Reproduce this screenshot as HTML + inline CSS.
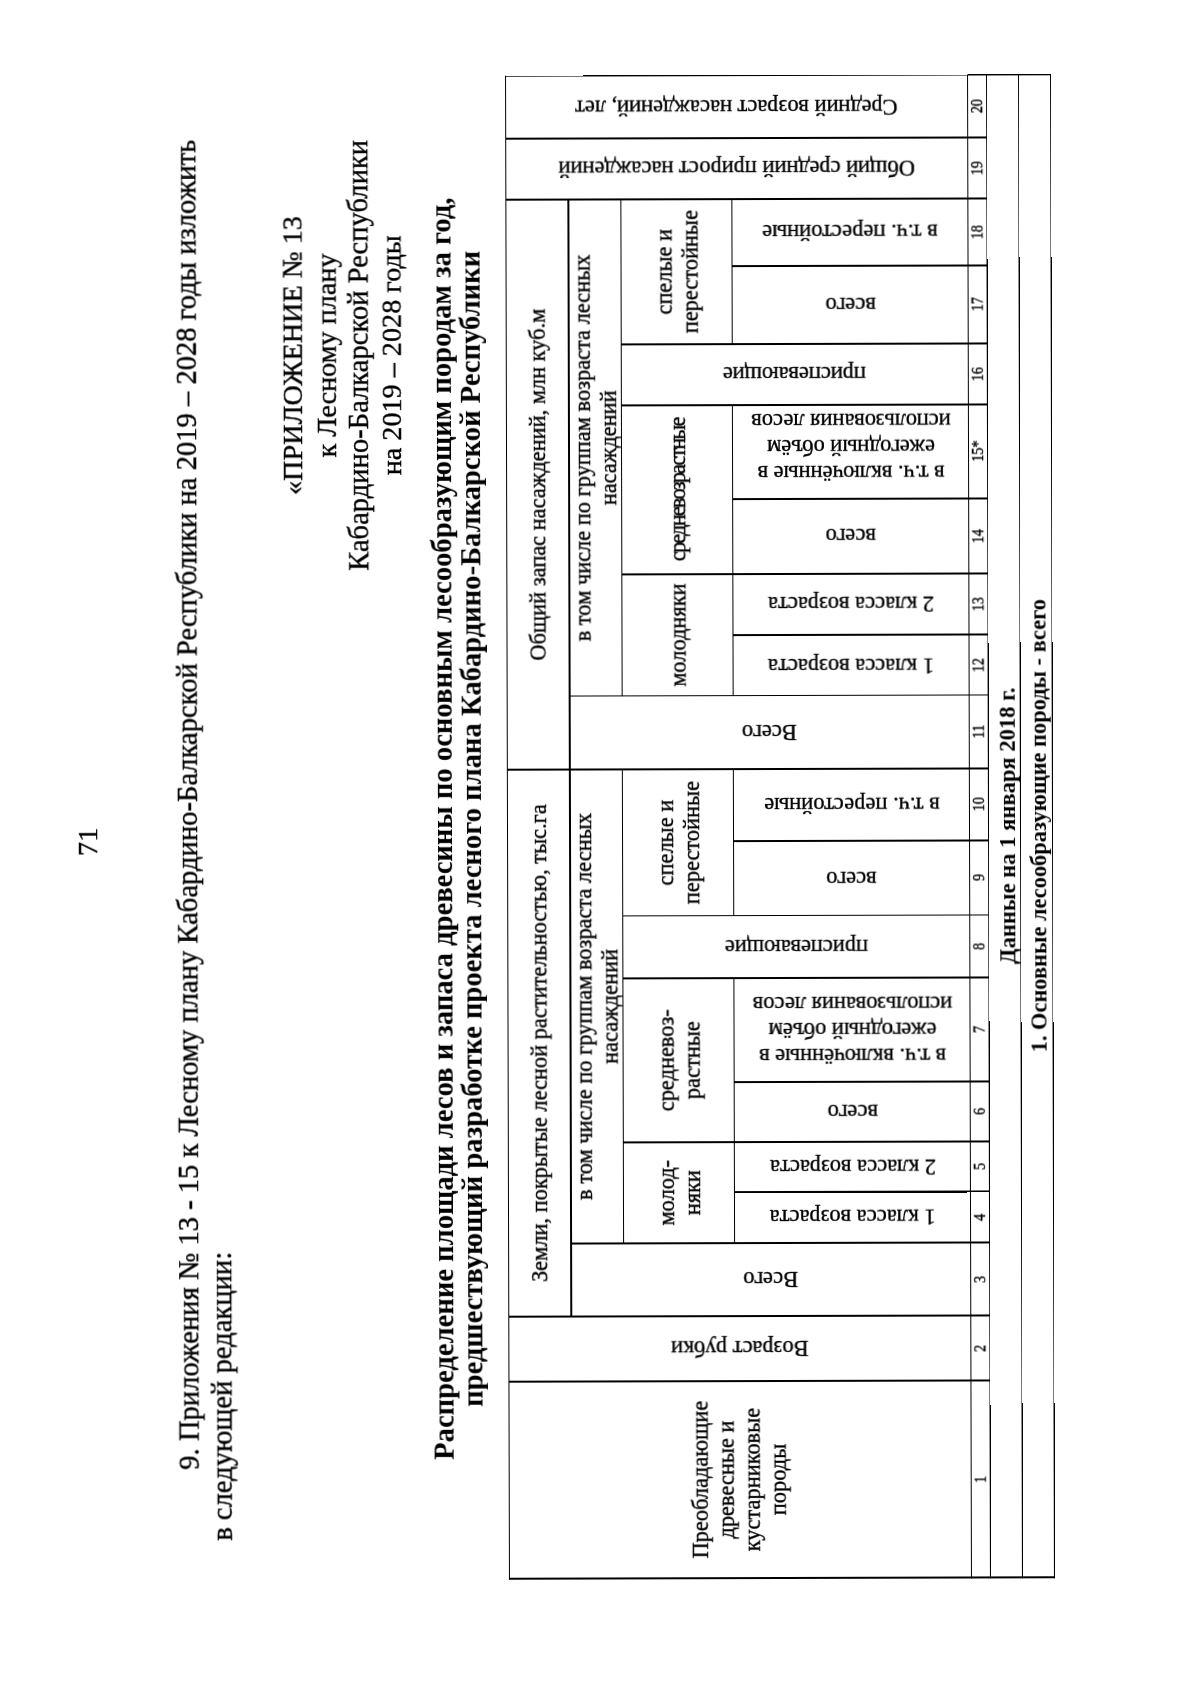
<!DOCTYPE html>
<html><head><meta charset="utf-8"><title>page</title>
<style>
html,body{margin:0;padding:0;background:#fff;}
body{width:1200px;height:1702px;overflow:hidden;position:relative;}
#deskew{position:absolute;left:0;top:0;width:1200px;height:1702px;transform-origin:780px 828px;transform:rotate(-0.15deg);}
#land{position:absolute;left:0;top:0;width:1702px;height:1200px;transform-origin:0 0;transform:translate(0,1702px) rotate(-90deg);will-change:transform;font-family:"Liberation Serif",serif;color:#000;-webkit-text-stroke:0.35px #000;}
.h{position:absolute;height:1.3px;background:#000;}
.v{position:absolute;width:1.3px;background:#000;}
.t{position:absolute;white-space:nowrap;}
.cell{position:absolute;display:flex;align-items:center;justify-content:center;text-align:center;}
.cell>div{white-space:nowrap;}
.vc{transform:rotate(-90deg);}
.ss{font-family:"Liberation Serif",serif;font-size:22.4px;line-height:26px;}
.sf{font-family:"Liberation Serif",serif;font-size:22.4px;line-height:26px;}
.num{font-family:"Liberation Serif",serif;font-size:16.5px;line-height:16px;}
.num>div{transform:scaleX(0.86);}
.bd{font-family:"Liberation Serif",serif;font-size:28.3px;line-height:30px;font-weight:700;}
u{text-decoration-thickness:1.1px;text-underline-offset:4.5px;}
</style></head>
<body><div id="deskew"><div id="land">
<div class="t" style="left:-138.0px;width:2000px;text-align:center;top:73.8px;font-size:28.3px;line-height:28.3px;font-weight:400;">71</div>
<div class="t" style="left:233.8px;top:174.2px;width:1328.0px;font-size:28.6px;line-height:28.6px;text-align:justify;text-align-last:justify">9. Приложения № 13 - 15 к Лесному плану Кабардино-Балкарской Республики на 2019 – 2028 годы изложить</div>
<div class="t" style="left:162.7px;top:206.7px;font-size:28.6px;line-height:28.6px;font-weight:400;">в следующей редакции:</div>
<div class="t" style="left:347.7px;width:2000px;text-align:center;top:280.4px;font-size:28.2px;line-height:28.2px;font-weight:400;">«ПРИЛОЖЕНИЕ № 13</div>
<div class="t" style="left:347.7px;width:2000px;text-align:center;top:314.4px;font-size:28.2px;line-height:28.2px;font-weight:400;">к Лесному плану</div>
<div class="t" style="left:347.7px;width:2000px;text-align:center;top:346.3px;font-size:28.6px;line-height:28.6px;font-weight:400;">Кабардино-Балкарской Республики</div>
<div class="t" style="left:347.7px;width:2000px;text-align:center;top:378.5px;font-size:28.2px;line-height:28.2px;font-weight:400;">на 2019 – 2028 годы</div>
<div class="t" style="left:-125.8px;width:2000px;text-align:center;top:428.0px;font-size:28.63px;line-height:28.63px;font-weight:700;-webkit-text-stroke:0;">Распределение площади лесов и запаса древесины по основным лесообразующим породам за год,</div>
<div class="t" style="left:-126.0px;width:2000px;text-align:center;top:457.4px;font-size:28.63px;line-height:28.63px;font-weight:700;-webkit-text-stroke:0;">предшествующий разработке проекта лесного плана Кабардино-Балкарской Республики</div>
<div class="t" style="left:-124.4px;width:2000px;text-align:center;top:997.0px;font-size:22.6px;line-height:22.6px;font-weight:700;-webkit-text-stroke:0;">Данные на 1 января 2018 г.</div>
<div class="t" style="left:-124.4px;width:2000px;text-align:center;top:1027.9px;font-size:22.4px;line-height:22.4px;font-weight:700;-webkit-text-stroke:0;">1. Основные лесообразующие породы - всего</div>
<div class="h" style="left:123.3px;top:507.0px;width:1503.8px"></div>
<div class="h" style="left:385.4px;top:569.4px;width:1118.3px"></div>
<div class="h" style="left:458.4px;top:621.6px;width:475.3px"></div>
<div class="h" style="left:1005.6px;top:621.6px;width:498.1px"></div>
<div class="h" style="left:458.4px;top:733.1px;width:266.3px"></div>
<div class="h" style="left:785.6px;top:733.1px;width:148.0px"></div>
<div class="h" style="left:1005.6px;top:733.1px;width:292.1px"></div>
<div class="h" style="left:1357.3px;top:733.1px;width:146.3px"></div>
<div class="h" style="left:123.3px;top:968.6px;width:1503.8px"></div>
<div class="h" style="left:123.3px;top:988.1px;width:1503.8px"></div>
<div class="h" style="left:123.3px;top:1020.0px;width:1503.8px"></div>
<div class="h" style="left:123.3px;top:1051.5px;width:1503.8px"></div>
<div class="v" style="left:123.3px;top:507.0px;height:545.9px"></div>
<div class="v" style="left:320.4px;top:507.0px;height:482.4px"></div>
<div class="v" style="left:385.4px;top:507.0px;height:482.4px"></div>
<div class="v" style="left:458.4px;top:569.4px;height:420.0px"></div>
<div class="v" style="left:509.4px;top:733.1px;height:256.2px"></div>
<div class="v" style="left:559.4px;top:621.6px;height:367.7px"></div>
<div class="v" style="left:619.4px;top:733.1px;height:256.2px"></div>
<div class="v" style="left:723.4px;top:621.6px;height:367.7px"></div>
<div class="v" style="left:785.6px;top:621.6px;height:367.7px"></div>
<div class="v" style="left:860.4px;top:733.1px;height:256.2px"></div>
<div class="v" style="left:932.4px;top:507.0px;height:482.4px"></div>
<div class="v" style="left:1005.6px;top:569.4px;height:420.0px"></div>
<div class="v" style="left:1066.3px;top:733.1px;height:256.2px"></div>
<div class="v" style="left:1127.3px;top:621.6px;height:367.7px"></div>
<div class="v" style="left:1202.3px;top:733.1px;height:256.2px"></div>
<div class="v" style="left:1296.3px;top:621.6px;height:367.7px"></div>
<div class="v" style="left:1357.3px;top:621.6px;height:367.7px"></div>
<div class="v" style="left:1435.3px;top:733.1px;height:256.2px"></div>
<div class="v" style="left:1502.3px;top:507.0px;height:482.4px"></div>
<div class="v" style="left:1563.3px;top:507.0px;height:482.4px"></div>
<div class="v" style="left:1625.8px;top:507.0px;height:545.9px"></div>
<div class="cell ss" style="left:386px;top:507.6px;width:547px;height:62.39999999999998px;"><div>Земли, покрытые лесной растительностью, тыс.га</div></div>
<div class="cell ss" style="left:933px;top:507.6px;width:570px;height:62.39999999999998px;"><div>Общий запас насаждений, млн куб.м</div></div>
<div class="cell ss" style="left:459px;top:571.3px;width:474px;height:52.299999999999955px;"><div>в том числе по группам возраста лесных<br>насаждений</div></div>
<div class="cell ss" style="left:1006.2px;top:571.3px;width:496.79999999999995px;height:52.299999999999955px;"><div>в том числе по группам возраста лесных<br>насаждений</div></div>
<div class="cell ss" style="left:459px;top:623.5999999999999px;width:101px;height:111.5px;"><div>молод-<br>няки</div></div>
<div class="cell ss" style="left:560px;top:623.5999999999999px;width:164px;height:111.5px;"><div>средневоз-<br>растные</div></div>
<div class="cell ss" style="left:786.3px;top:623.5999999999999px;width:146.70000000000005px;height:111.5px;"><div>спелые и<br>перестойные</div></div>
<div class="cell ss" style="left:1006.2px;top:623.5999999999999px;width:121.79999999999995px;height:111.5px;"><div>молодняки</div></div>
<div class="cell ss" style="left:1128px;top:623.5999999999999px;width:169px;height:111.5px;"><div><span style="letter-spacing:-1.85px">средневозрастные</span></div></div>
<div class="cell ss" style="left:1358px;top:623.5999999999999px;width:145px;height:111.5px;"><div>спелые и<br>перестойные</div></div>
<div class="cell ss" style="left:124px;top:507.6px;width:197px;height:461.69999999999993px;"><div>Преобладающие<br>древесные и<br>кустарниковые<br>породы</div></div>
<div class="cell vc sf" style="left:122.7px;top:706.0px;width:461.7px;height:65.0px;"><div>Возраст рубки</div></div>
<div class="cell vc sf" style="left:222.9px;top:733.1px;width:399.3px;height:73.0px;"><div>Всего</div></div>
<div class="cell vc sf" style="left:366.8px;top:826.0px;width:235.5px;height:51.0px;"><div>1 класса возраста</div></div>
<div class="cell vc sf" style="left:417.2px;top:826.5px;width:235.5px;height:50.0px;"><div>2 класса возраста</div></div>
<div class="cell vc sf" style="left:472.2px;top:821.5px;width:235.5px;height:60.0px;"><div>всего</div></div>
<div class="cell vc sf" style="left:554.2px;top:799.5px;width:235.5px;height:104.0px;"><div>в т.ч. включённые в<br>ежегодный объём<br>использования лесов</div></div>
<div class="cell vc sf" style="left:581.6px;top:764.6px;width:347.0px;height:62.3px;"><div>приспевающие</div></div>
<div class="cell vc sf" style="left:705.9px;top:814.2px;width:235.5px;height:74.7px;"><div>всего</div></div>
<div class="cell vc sf" style="left:779.2px;top:815.5px;width:235.5px;height:72.0px;"><div>в т.ч. перестойные</div></div>
<div class="cell vc sf" style="left:770.0px;top:733.0px;width:399.3px;height:73.2px;"><div>Всего</div></div>
<div class="cell vc sf" style="left:918.8px;top:821.1px;width:235.5px;height:60.8px;"><div>1 класса возраста</div></div>
<div class="cell vc sf" style="left:979.8px;top:821.0px;width:235.5px;height:61.0px;"><div>2 класса возраста</div></div>
<div class="cell vc sf" style="left:1047.8px;top:814.0px;width:235.5px;height:75.0px;"><div>всего</div></div>
<div class="cell vc sf" style="left:1132.2px;top:804.5px;width:235.5px;height:94.0px;margin-left:4.5px"><div>в т.ч. включённые в<br>ежегодный объём<br>использования лесов</div></div>
<div class="cell vc sf" style="left:1154.0px;top:765.3px;width:347.0px;height:61.0px;"><div>приспевающие</div></div>
<div class="cell vc sf" style="left:1279.2px;top:812.5px;width:235.5px;height:78.0px;"><div>всего</div></div>
<div class="cell vc sf" style="left:1351.8px;top:818.0px;width:235.5px;height:67.0px;"><div>в т.ч. перестойные</div></div>
<div class="cell vc ss" style="left:1302.7px;top:708.0px;width:461.7px;height:61.0px;"><div>Общий средний прирост насаждений</div></div>
<div class="cell vc sf" style="left:1364.4px;top:707.2px;width:461.7px;height:62.5px;"><div>Средний возраст насаждений, лет</div></div>
<div class="cell num" style="left:124px;top:969.3px;width:197px;height:19.40000000000009px;"><div>1</div></div>
<div class="cell num" style="left:321px;top:969.3px;width:65px;height:19.40000000000009px;"><div>2</div></div>
<div class="cell num" style="left:386px;top:969.3px;width:73px;height:19.40000000000009px;"><div>3</div></div>
<div class="cell num" style="left:459px;top:969.3px;width:51px;height:19.40000000000009px;"><div>4</div></div>
<div class="cell num" style="left:510px;top:969.3px;width:50px;height:19.40000000000009px;"><div>5</div></div>
<div class="cell num" style="left:560px;top:969.3px;width:60px;height:19.40000000000009px;"><div>6</div></div>
<div class="cell num" style="left:620px;top:969.3px;width:104px;height:19.40000000000009px;"><div>7</div></div>
<div class="cell num" style="left:724px;top:969.3px;width:62.299999999999955px;height:19.40000000000009px;"><div>8</div></div>
<div class="cell num" style="left:786.3px;top:969.3px;width:74.70000000000005px;height:19.40000000000009px;"><div>9</div></div>
<div class="cell num" style="left:861px;top:969.3px;width:72px;height:19.40000000000009px;"><div>10</div></div>
<div class="cell num" style="left:933px;top:969.3px;width:73.20000000000005px;height:19.40000000000009px;"><div>11</div></div>
<div class="cell num" style="left:1006.2px;top:969.3px;width:60.799999999999955px;height:19.40000000000009px;"><div>12</div></div>
<div class="cell num" style="left:1067px;top:969.3px;width:61px;height:19.40000000000009px;"><div>13</div></div>
<div class="cell num" style="left:1128px;top:969.3px;width:75px;height:19.40000000000009px;"><div>14</div></div>
<div class="cell num" style="left:1203px;top:969.3px;width:94px;height:19.40000000000009px;"><div>15*</div></div>
<div class="cell num" style="left:1297px;top:969.3px;width:61px;height:19.40000000000009px;"><div>16</div></div>
<div class="cell num" style="left:1358px;top:969.3px;width:78px;height:19.40000000000009px;"><div>17</div></div>
<div class="cell num" style="left:1436px;top:969.3px;width:67px;height:19.40000000000009px;"><div>18</div></div>
<div class="cell num" style="left:1503px;top:969.3px;width:61px;height:19.40000000000009px;"><div>19</div></div>
<div class="cell num" style="left:1564px;top:969.3px;width:62.5px;height:19.40000000000009px;"><div>20</div></div>
</div></div></body></html>
